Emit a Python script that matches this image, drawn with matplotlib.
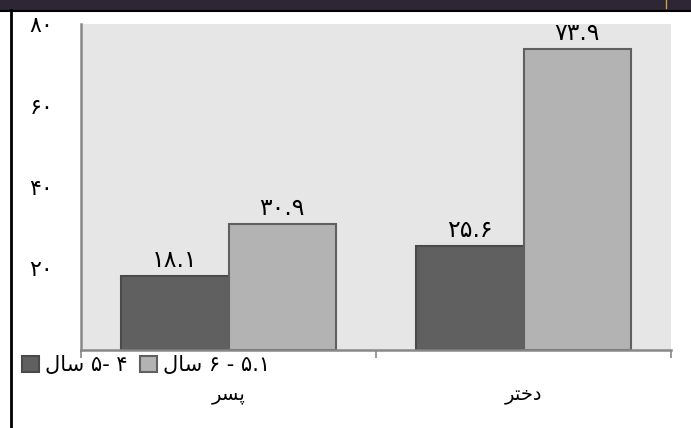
import numpy as np
import matplotlib.pyplot as plt
from matplotlib.patches import Rectangle
from matplotlib.lines import Line2D

####################################################################################################
# data (Persian words are written in visual order with Arabic presentation forms,
# because matplotlib does no bidi / shaping on its own)
categories = ['\uFEAE\uFEB4\uFB58',          # پسر
              '\uFEAE\uFE98\uFEA7\uFEA9']    # دختر
sal = '\uFEDD\uFE8E\uFEB3'                   # سال
series_labels = [sal + ' \u06F5- \u06F4',            # ۴ -۵ سال
                 sal + ' \u06F6 - \u06F5.\u06F1']     # ۵.۱ - ۶ سال
values_4_5 = [18.1, 25.6]
values_51_6 = [30.9, 73.9]
yticks = [20, 40, 60, 80]

fa_digits = str.maketrans('0123456789', '\u06F0\u06F1\u06F2\u06F3\u06F4\u06F5\u06F6\u06F7\u06F8\u06F9')
def fa(s):
    return str(s).translate(fa_digits)

####################################################################################################
plt.rcParams['font.family'] = ['DejaVu Sans']

fig = plt.figure(figsize=(6.91, 4.28), dpi=100)
ax = fig.add_axes([81/691, 1 - 350/428, 590/691, 326/428])
ax.set_facecolor('#e6e6e6')

x = np.arange(len(categories))
w = 0.363
b1 = ax.bar(x - w/2, values_4_5, w, color='#606060', edgecolor='#4a4a4a', linewidth=1.5,
            label=series_labels[0])
b2 = ax.bar(x + w/2, values_51_6, w, color='#b3b3b3', edgecolor='#606060', linewidth=1.5,
            label=series_labels[1])

for bars in (b1, b2):
    for rect in bars:
        h = rect.get_height()
        ax.annotate(fa(h), (rect.get_x() + rect.get_width()/2, h), xytext=(0, 3),
                    textcoords='offset points', ha='center', va='bottom', fontsize=17)

ax.set_xlim(-0.5, 1.5)
ax.set_ylim(0, 80)
ax.set_yticks(yticks)
ax.set_yticklabels([fa(t) for t in yticks], fontsize=16)
ax.tick_params(axis='y', length=0, pad=20)
ax.set_xticks(x)
ax.set_xticklabels(categories, fontsize=14)
ax.tick_params(axis='x', which='major', length=0, pad=25)
ax.set_xticks([-0.5, 0.5, 1.5], minor=True)
ax.tick_params(axis='x', which='minor', length=6, width=1.2, color='#888888', direction='out')

for s in ['top', 'right']:
    ax.spines[s].set_visible(False)
for s in ['left', 'bottom']:
    ax.spines[s].set_color('#888888')
    ax.spines[s].set_linewidth(1.8)

ax.legend(loc='center left', bbox_to_anchor=(22/691, 1 - 365/428), bbox_transform=fig.transFigure,
          ncol=2, frameon=False, fontsize=15, handlelength=0.8, handleheight=0.8,
          handletextpad=0.3, columnspacing=0.6, borderpad=0, borderaxespad=0)

# slide frame around the chart (dark band on top, black line on the left)
fig.patches.append(Rectangle((0, 1 - 10/428), 1, 10/428, transform=fig.transFigure,
                             color='#2e2535', zorder=0))
fig.lines.append(Line2D([0, 1], [1 - 10.5/428] * 2, transform=fig.transFigure, color='black', lw=1.5))
fig.lines.append(Line2D([10.5/691] * 2, [0, 1 - 10/428], transform=fig.transFigure, color='black', lw=2))
fig.lines.append(Line2D([666/691] * 2, [1 - 8/428, 1], transform=fig.transFigure, color='#c9a34a', lw=1))

fig.savefig('out.png', dpi=100)
